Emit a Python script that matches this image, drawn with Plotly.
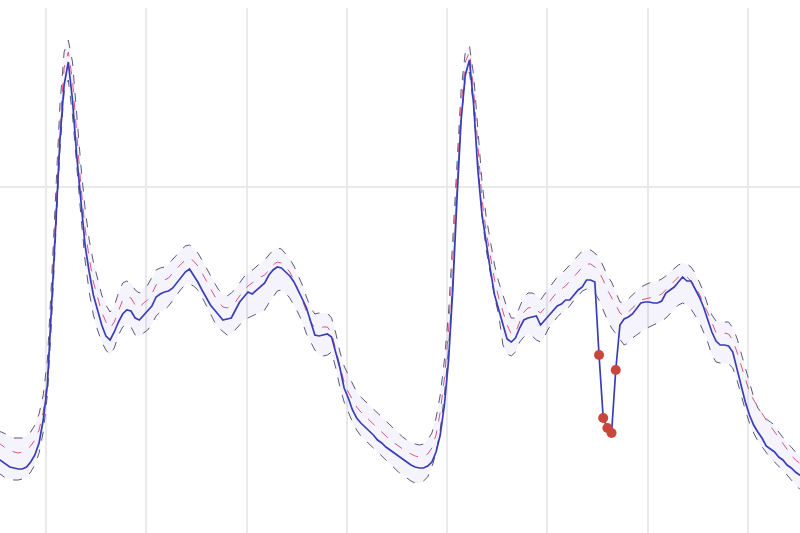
import numpy as np
import plotly.graph_objects as go

# observed series (sample index = 15-min steps)
actual = [458, 461, 464, 467, 468, 469, 469, 467, 462, 455, 443, 420, 385, 310, 225, 140, 85, 62, 100, 155,
          200, 245, 272, 295, 310, 325, 336, 340, 332, 322, 314, 310, 311, 318, 320, 315, 311, 306, 297, 294,
          292, 291, 288, 283, 278, 272, 269, 275, 282, 290, 298, 305, 310, 315, 320, 319, 318, 310, 302, 297,
          292, 294, 290, 287, 283, 275, 270, 267, 268, 272, 276, 282, 290, 299, 308, 322, 335, 336, 335, 334,
          337, 352, 368, 388, 398, 410, 418, 423, 427, 430, 435, 440, 443, 447, 450, 453, 456, 459, 462, 465,
          467, 468, 468, 466, 462, 452, 435, 405, 360, 290, 200, 120, 75, 60, 105, 170, 215, 245, 270, 295,
          310, 325, 339, 342, 338, 328, 320, 318, 317, 316, 325, 320, 316, 310, 306, 304, 300, 300, 295, 290,
          287, 280, 280, 282, 355, 418, 428, 433, 370, 325, 319, 317, 314, 308, 303, 302, 302, 303, 303, 301,
          293, 290, 287, 282, 277, 281, 281, 289, 297, 307, 320, 332, 341, 345, 345, 346, 352, 368, 386, 402,
          415, 425, 432, 438, 446, 449, 452, 457, 460, 465, 468, 472, 475, 477]
predicted = [442, 445, 448, 450, 452, 453, 452, 450, 446, 440, 430, 412, 378, 300, 210, 125, 68, 52, 80, 135,
             185, 228, 258, 282, 298, 312, 322, 328, 322, 310, 300, 297, 298, 305, 308, 303, 300, 294, 285, 282,
             280, 278, 273, 268, 264, 260, 258, 261, 266, 273, 281, 289, 296, 302, 307, 308, 306, 302, 296, 290,
             286, 283, 280, 277, 275, 270, 265, 262, 263, 267, 272, 280, 290, 300, 312, 322, 328, 328, 327, 327,
             333, 350, 368, 382, 392, 400, 407, 412, 416, 420, 425, 428, 432, 436, 440, 443, 446, 449, 451, 454,
             456, 457, 456, 454, 448, 435, 412, 378, 330, 260, 175, 105, 62, 52, 90, 150, 200, 232, 258, 280,
             298, 312, 325, 334, 333, 322, 312, 308, 307, 310, 313, 308, 302, 297, 292, 289, 286, 281, 277, 272,
             267, 264, 264, 267, 272, 280, 290, 297, 305, 313, 316, 312, 308, 303, 300, 299, 298, 297, 296, 294,
             290, 286, 282, 277, 275, 277, 281, 286, 294, 303, 313, 322, 333, 333, 333, 334, 340, 352, 365, 380,
             392, 400, 407, 413, 420, 426, 432, 437, 444, 450, 455, 460, 463, 466]
upper = [431, 432, 434, 436, 438, 438, 438, 435, 432, 425, 414, 395, 360, 280, 190, 105, 52, 40, 62, 115,
         165, 208, 240, 262, 280, 295, 305, 312, 306, 293, 283, 281, 283, 290, 293, 288, 285, 278, 270, 268,
         267, 264, 259, 254, 250, 246, 245, 248, 253, 260, 268, 276, 283, 290, 294, 296, 293, 289, 283, 277,
         274, 270, 266, 263, 260, 255, 250, 248, 249, 254, 259, 266, 275, 285, 297, 308, 314, 313, 313, 313,
         318, 333, 352, 366, 375, 384, 392, 397, 401, 405, 410, 413, 417, 422, 426, 430, 434, 437, 440, 442,
         444, 445, 444, 440, 433, 418, 395, 360, 312, 240, 160, 90, 52, 46, 75, 132, 182, 217, 242, 265,
         282, 296, 308, 318, 318, 307, 297, 293, 293, 295, 300, 294, 288, 282, 277, 274, 270, 265, 260, 255,
         251, 250, 250, 253, 258, 266, 276, 282, 292, 302, 303, 299, 295, 290, 287, 285, 283, 282, 281, 279,
         276, 272, 268, 265, 263, 264, 267, 273, 282, 292, 305, 315, 321, 322, 322, 322, 328, 338, 353, 368,
         382, 397, 408, 414, 419, 422, 425, 432, 438, 443, 447, 452, 455, 457]
lower = [472, 475, 478, 479, 480, 480, 479, 477, 472, 465, 453, 432, 395, 320, 235, 150, 92, 80, 115, 168,
         215, 260, 292, 315, 330, 342, 350, 355, 348, 335, 327, 324, 327, 335, 337, 333, 330, 324, 316, 312,
         310, 306, 300, 294, 289, 285, 284, 286, 290, 297, 305, 313, 322, 328, 332, 335, 334, 330, 325, 320,
         318, 316, 314, 312, 310, 303, 297, 291, 290, 293, 298, 305, 313, 322, 334, 342, 350, 355, 356, 355,
         352, 368, 387, 402, 413, 422, 430, 436, 440, 444, 449, 453, 457, 461, 465, 469, 472, 475, 478, 481,
         483, 483, 481, 477, 467, 453, 430, 395, 348, 280, 192, 120, 78, 72, 108, 167, 216, 250, 275, 297,
         315, 345, 354, 356, 352, 342, 337, 335, 336, 340, 342, 336, 328, 322, 317, 313, 310, 306, 300, 296,
         291, 289, 290, 293, 300, 310, 320, 328, 334, 340, 345, 343, 338, 335, 332, 329, 327, 325, 323, 321,
         318, 314, 309, 305, 303, 305, 309, 315, 322, 332, 342, 355, 362, 363, 363, 364, 368, 380, 396, 410,
         423, 433, 441, 447, 453, 458, 462, 466, 470, 475, 480, 485, 489, 492]
anomaly_idx = [144, 145, 146, 147, 148]

v = lambda arr: [587 - a for a in arr]  # convert read pixel heights to value units
A, P, U, L = v(actual), v(predicted), v(upper), v(lower)
x = list(range(len(actual)))

fig = go.Figure()
fig.add_trace(go.Scatter(x=x, y=U, mode="lines", line=dict(color="#5a5a7a", width=1, dash="dash"),
                         showlegend=False, hoverinfo="skip"))
fig.add_trace(go.Scatter(x=x, y=L, mode="lines", line=dict(color="#5a5a7a", width=1, dash="dash"),
                         fill="tonexty", fillcolor="rgba(130,120,220,0.08)", showlegend=False, hoverinfo="skip"))
fig.add_trace(go.Scatter(x=x, y=P, mode="lines", line=dict(color="#d9577e", width=1, dash="dash"),
                         showlegend=False))
fig.add_trace(go.Scatter(x=x, y=A, mode="lines", line=dict(color="#3a3db5", width=1.7),
                         showlegend=False))
fig.add_trace(go.Scatter(x=anomaly_idx, y=[A[i] for i in anomaly_idx], mode="markers",
                         marker=dict(color="#c9463a", size=10), showlegend=False))

fig.update_layout(
    width=800, height=533, margin=dict(l=0, r=0, t=8, b=0),
    paper_bgcolor="white", plot_bgcolor="white",
    xaxis=dict(range=[0.656, 192.09], tick0=11.664, dtick=24, showticklabels=False,
               showgrid=True, gridcolor="#e9e9e9", gridwidth=2, zeroline=False, showline=False, ticks=""),
    yaxis=dict(range=[54, 579], tick0=0, dtick=400, showticklabels=False,
               showgrid=True, gridcolor="#e9e9e9", gridwidth=2, zeroline=False, showline=False, ticks=""),
)
fig.write_html("out.html", config={"displayModeBar": False},
               post_script="document.body.style.margin='0';")
